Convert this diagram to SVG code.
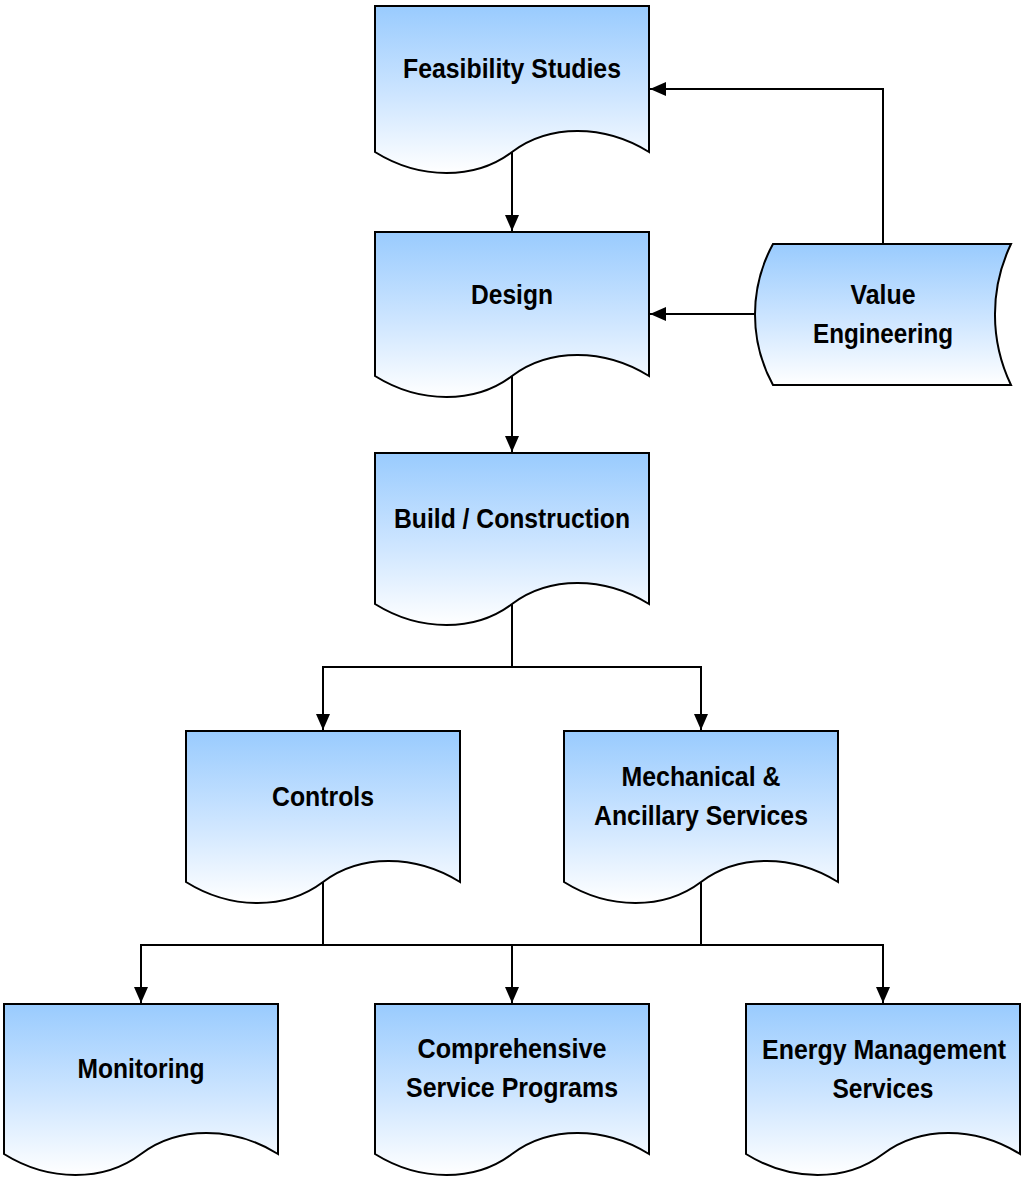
<svg xmlns="http://www.w3.org/2000/svg" width="1023" height="1179" viewBox="0 0 1023 1179">
<style>
.shape{fill:url(#g);stroke:#000;stroke-width:2;stroke-linejoin:miter}
.lbl{font-family:"Liberation Sans Narrow","Liberation Sans",Arial,sans-serif;font-weight:bold;font-size:28px;fill:#000;text-anchor:middle}
.conn{fill:none;stroke:#000;stroke-width:2}
</style>
<defs>
<linearGradient id="g" x1="0" y1="0" x2="0" y2="1">
<stop offset="0" stop-color="#99CBFE"/>
<stop offset="0.55" stop-color="#CFE6FF"/>
<stop offset="1" stop-color="#FFFFFF"/>
</linearGradient>
<marker id="arr" markerUnits="userSpaceOnUse" markerWidth="16" markerHeight="14" refX="16" refY="7" orient="auto" viewBox="0 0 16 14">
<path d="M0,0 L16,7 L0,14 Z" fill="#000"/>
</marker>
</defs>
<rect x="0" y="0" width="1023" height="1179" fill="#fff"/>

<g id="connectors">
<path class="conn" d="M512,152 V231" marker-end="url(#arr)"/>
<path class="conn" d="M512,376 V452" marker-end="url(#arr)"/>
<path class="conn" d="M512,604 V667 H323 V730" marker-end="url(#arr)"/>
<path class="conn" d="M512,667 H701 V730" marker-end="url(#arr)"/>
<path class="conn" d="M323,882 V945 H141 V1003" marker-end="url(#arr)"/>
<path class="conn" d="M323,945 H512 V1003" marker-end="url(#arr)"/>
<path class="conn" d="M701,882 V945 H883 V1003" marker-end="url(#arr)"/>
<path class="conn" d="M512,945 H701"/>
<path class="conn" d="M883,244 V89 H650" marker-end="url(#arr)"/>
<path class="conn" d="M755,314 H650" marker-end="url(#arr)"/>
</g>

<g id="feasibility">
<path class="shape" d="M375,6 H649 V152 C604,124 549,124 512,152 C475,180 420,180 375,152 Z"/>
<text class="lbl" x="512" y="78" textLength="218" lengthAdjust="spacingAndGlyphs">Feasibility Studies</text>
</g>

<g id="design">
<path class="shape" d="M375,232 H649 V376 C604,348 549,348 512,376 C475,404 420,404 375,376 Z"/>
<text class="lbl" x="512" y="304" textLength="82" lengthAdjust="spacingAndGlyphs">Design</text>
</g>

<g id="value-engineering">
<path class="shape" d="M773,244 H1011 A163 163 0 0 0 1011,385 H773 A147 147 0 0 1 773,244 Z"/>
<text class="lbl" x="883" y="304" textLength="65" lengthAdjust="spacingAndGlyphs">Value</text>
<text class="lbl" x="883" y="343" textLength="140" lengthAdjust="spacingAndGlyphs">Engineering</text>
</g>

<g id="build">
<path class="shape" d="M375,453 H649 V604 C604,576 549,576 512,604 C475,632 420,632 375,604 Z"/>
<text class="lbl" x="512" y="528" textLength="236" lengthAdjust="spacingAndGlyphs">Build / Construction</text>
</g>

<g id="controls">
<path class="shape" d="M186,731 H460 V882 C415,854 360,854 323,882 C286,910 231,910 186,882 Z"/>
<text class="lbl" x="323" y="806" textLength="102" lengthAdjust="spacingAndGlyphs">Controls</text>
</g>

<g id="mechanical">
<path class="shape" d="M564,731 H838 V882 C793,854 738,854 701,882 C664,910 609,910 564,882 Z"/>
<text class="lbl" x="701" y="786" textLength="159" lengthAdjust="spacingAndGlyphs">Mechanical &amp;</text>
<text class="lbl" x="701" y="825" textLength="214" lengthAdjust="spacingAndGlyphs">Ancillary Services</text>
</g>

<g id="monitoring">
<path class="shape" d="M4,1004 H278 V1154 C233,1126 178,1126 141,1154 C104,1182 49,1182 4,1154 Z"/>
<text class="lbl" x="141" y="1078" textLength="127" lengthAdjust="spacingAndGlyphs">Monitoring</text>
</g>

<g id="comprehensive">
<path class="shape" d="M375,1004 H649 V1154 C604,1126 549,1126 512,1154 C475,1182 420,1182 375,1154 Z"/>
<text class="lbl" x="512" y="1058" textLength="189" lengthAdjust="spacingAndGlyphs">Comprehensive</text>
<text class="lbl" x="512" y="1097" textLength="212" lengthAdjust="spacingAndGlyphs">Service Programs</text>
</g>

<g id="energy">
<path class="shape" d="M746,1004 H1020 V1154 C975,1126 920,1126 883,1154 C846,1182 791,1182 746,1154 Z"/>
<text class="lbl" x="884" y="1059" textLength="244" lengthAdjust="spacingAndGlyphs">Energy Management</text>
<text class="lbl" x="883" y="1098" textLength="101" lengthAdjust="spacingAndGlyphs">Services</text>
</g>
</svg>
